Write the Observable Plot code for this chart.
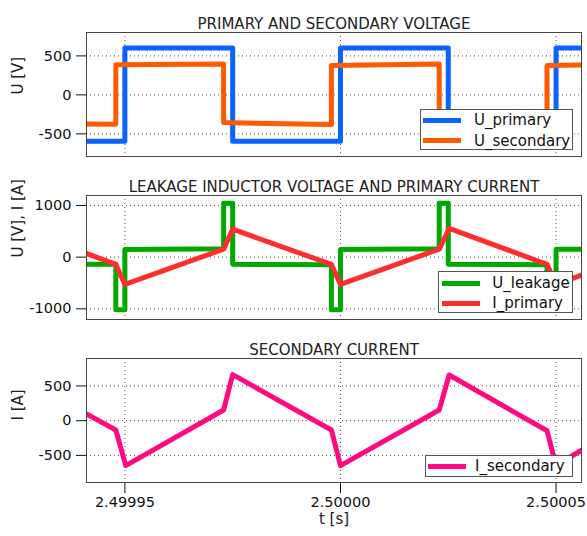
<!DOCTYPE html>
<html>
<head>
<meta charset="utf-8">
<script src="https://cdn.jsdelivr.net/npm/d3@7"></script>
<script src="https://cdn.jsdelivr.net/npm/@observablehq/plot@0.6"></script>
<style>
  html, body { margin: 0; padding: 0; background: white; }
  #chart { position: relative; width: 587px; height: 536px; font-family: "DejaVu Sans", sans-serif; }
  #chart svg { position: absolute; left: 0; display: block; }
  .legend { position: absolute; box-sizing: border-box; background: white; border: 1px solid #555; font-family: "DejaVu Sans", sans-serif; font-size: 15px; color: #111; }
  .legend .sw { position: absolute; height: 5px; width: 38px; }
  .legend .lb { position: absolute; line-height: 18px; white-space: nowrap; }
</style>
</head>
<body>
<div id="chart"></div>
<script>
// time axis: microseconds relative to t = 2.5 s
const xDomain = [-58.9, 55.9];
const xTicks = [-50, 0, 50];
const xTickLabels = ["2.49995", "2.50000", "2.50005"];

// Panel 1: primary and secondary voltage
const tPrimary = [-58.9, -50, -50, -25, -25, 0, 0, 25, 25, 50, 50, 55.9];
const uPrimary = [-595, -595, 600, 600, -595, -595, 600, 600, -595, -595, 600, 600];
const tSecondary = [-58.9, -52.1, -52.1, -27.1, -27.1, -2.1, -2.1, 22.9, 22.9, 47.9, 47.9, 55.9];
const uSecondary = [-372, -376, 385, 397, -355, -381, 376, 397, -358, -382, 378, 382];

// Panel 2: leakage inductor voltage and primary current
const tLeakage = [-58.9, -52.1, -52.1, -50, -50, -27.1, -27.1, -25, -25, -2.1, -2.1, 0, 0, 22.9, 22.9, 25, 25, 47.9, 47.9, 50, 50, 55.9];
const uLeakage = [-140, -140, -1020, -1020, 150, 160, 1045, 1045, -140, -145, -1020, -1020, 150, 160, 1045, 1045, -140, -145, -1020, -1020, 155, 155];
const tIprimary = [-58.9, -52.1, -50, -27.1, -25, -2.1, 0, 22.9, 25.2, 47.9, 50, 55.9];
const iPrimary = [72, -141, -528, 155, 541, -141, -528, 155, 555, -138, -528, -350];

// Panel 3: secondary current
const tIsecondary = [-58.9, -52.1, -49.8, -27.1, -25, -2.1, 0, 22.9, 25.2, 47.9, 50, 55.9];
const iSecondary = [97, -134, -648, 154, 663, -134, -648, 154, 658, -145, -648, -425];

const titles = ["PRIMARY AND SECONDARY VOLTAGE", "LEAKAGE INDUCTOR VOLTAGE AND PRIMARY CURRENT", "SECONDARY CURRENT"];
const yLabels = ["U [V]", "U [V], I [A]", "I [A]"];
const yTicks1 = [-500, 0, 500];
const yTicks2 = [-1000, 0, 1000];
const yTicks3 = [-500, 0, 500];

const zip = (t, v) => t.map((d, i) => ({t: d, v: v[i]}));

const panels = [
  {top: 0, height: 170, mt: 32, mb: 14, yDomain: [-790, 800], yTicks: yTicks1, xaxis: false,
   series: [
     {name: "U_primary", data: zip(tPrimary, uPrimary), color: "#0a62ff"},
     {name: "U_secondary", data: zip(tSecondary, uSecondary), color: "#ff5a00"}
   ],
   legend: {left: 420, top: 109, width: 153, height: 41, sw: 3.3, lb: 54, rows: [11, 31.7]}},
  {top: 170, height: 160, mt: 25, mb: 11, yDomain: [-1207, 1193], yTicks: yTicks2, xaxis: false,
   series: [
     {name: "U_leakage", data: zip(tLeakage, uLeakage), color: "#00a800"},
     {name: "I_primary", data: zip(tIprimary, iPrimary), color: "#ff2e2e"}
   ],
   legend: {left: 438.3, top: 271, width: 135, height: 42, sw: 3.3, lb: 54, rows: [12.3, 32.3]}},
  {top: 330, height: 206, mt: 28, mb: 54, yDomain: [-890, 895], yTicks: yTicks3, xaxis: true,
   series: [
     {name: "I_secondary", data: zip(tIsecondary, iSecondary), color: "#ff0a80"}
   ],
   legend: {left: 425, top: 455, width: 148, height: 22, sw: 2.7, lb: 50, rows: [11]}}
];

const chart = document.getElementById("chart");

panels.forEach((p, k) => {
  const marks = [
    Plot.ruleX(xTicks, {stroke: "#555", strokeDasharray: "1,3"}),
    Plot.ruleY(p.yTicks, {stroke: "#555", strokeDasharray: "1,3"}),
    ...p.series.map(s => Plot.line(s.data, {x: "t", y: "v", stroke: s.color, strokeWidth: 5, strokeLinejoin: "round", strokeLinecap: "round", clip: true})),
    Plot.frame({stroke: "#444"}),
    Plot.text([titles[k]], {frameAnchor: "top", dy: -14.5, fontSize: 15, fill: "#222"}),
    Plot.text([yLabels[k]], {frameAnchor: "left", dx: -68, rotate: -90, fontSize: 15, fill: "#222"})
  ];
  if (p.xaxis) marks.push(Plot.text(["t [s]"], {frameAnchor: "bottom", dy: 41, fontSize: 15, fill: "#222"}));
  const svg = Plot.plot({
    width: 587, height: p.height,
    marginLeft: 86, marginRight: 6, marginTop: p.mt, marginBottom: p.mb,
    style: {fontFamily: "DejaVu Sans", fontSize: "14.5px", color: "#111", background: "white", overflow: "visible"},
    x: p.xaxis
      ? {domain: xDomain, ticks: xTicks, tickSize: 11, tickPadding: 3, tickFormat: d => xTickLabels[xTicks.indexOf(d)], label: null}
      : {domain: xDomain, axis: null},
    y: {domain: p.yDomain, ticks: p.yTicks, tickSize: 10, tickPadding: 5, tickFormat: d => String(d), label: null},
    marks
  });
  svg.style.top = p.top + "px";
  chart.appendChild(svg);

  const L = p.legend;
  const box = document.createElement("div");
  box.className = "legend";
  Object.assign(box.style, {left: L.left + "px", top: L.top + "px", width: L.width + "px", height: L.height + "px"});
  p.series.forEach((s, j) => {
    const sw = document.createElement("div");
    sw.className = "sw";
    Object.assign(sw.style, {left: (L.sw - 1) + "px", top: (L.rows[j] - 2.5 - 1) + "px", background: s.color});
    const lb = document.createElement("div");
    lb.className = "lb";
    lb.textContent = s.name;
    Object.assign(lb.style, {left: (L.lb - 1) + "px", top: (L.rows[j] - 9 - 1) + "px"});
    box.appendChild(sw);
    box.appendChild(lb);
  });
  chart.appendChild(box);
});
</script>
</body>
</html>
